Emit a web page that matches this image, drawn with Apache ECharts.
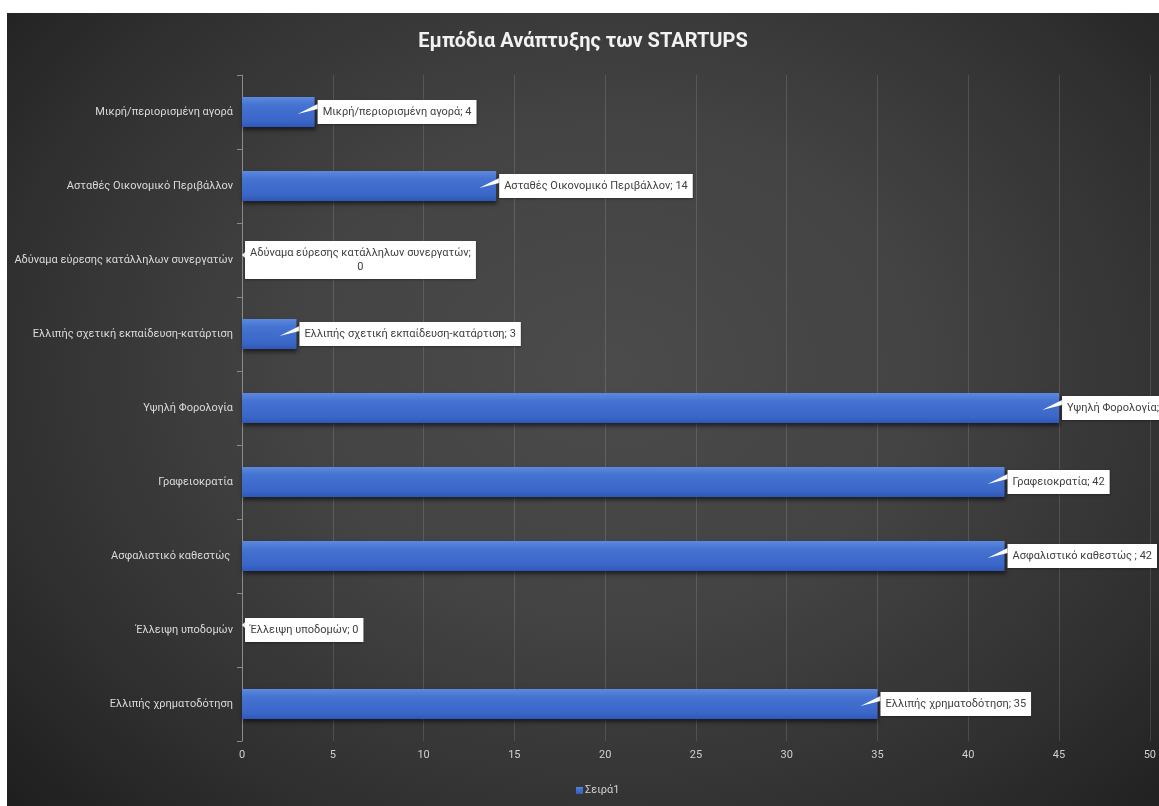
<!DOCTYPE html>
<html>
<head>
<meta charset="utf-8">
<script src="https://cdn.jsdelivr.net/npm/echarts@6/dist/echarts.min.js"></script>
<style>
  html, body { margin: 0; padding: 0; background: #ffffff; width: 1159px; height: 806px; overflow: hidden; }
  #chart {
    position: absolute; left: 7px; top: 13px; width: 1152px; height: 793px;
    background: radial-gradient(ellipse 70% 80% at 52% 45%, #4b4b4b 0%, #434343 40%, #303030 75%, #1f1f1f 100%);
  }
</style>
</head>
<body>
<div id="chart"></div>
<script>
// Obstacles to startup growth, listed bottom-to-top as on the axis
const categories = [
  'Ελλιπής χρηματοδότηση',
  'Έλλειψη υποδομών',
  'Ασφαλιστικό καθεστώς ',
  'Γραφειοκρατία',
  'Υψηλή Φορολογία',
  'Ελλιπής σχετική εκπαίδευση-κατάρτιση',
  'Αδύναμα εύρεσης κατάλληλων συνεργατών',
  'Ασταθές Οικονομικό Περιβάλλον',
  'Μικρή/περιορισμένη αγορά'
];
const values = [35, 0, 42, 42, 45, 3, 0, 14, 4];
const seriesName = 'Σειρά1';
const chartTitle = 'Εμπόδια Ανάπτυξης των STARTUPS';
const axisMin = 0;
const axisMax = 50;
const axisStep = 5;

const FONT = 'Roboto, "Noto Sans", sans-serif';
const LABEL_FONT = '11px ' + FONT;
const LABEL_MAX_W = 228;

// text measuring for the callout boxes
const measureCtx = document.createElement('canvas').getContext('2d');
measureCtx.font = LABEL_FONT;
function textW(t) { return measureCtx.measureText(t).width; }

function calloutLines(i) {
  const full = categories[i] + '; ' + values[i];
  if (textW(full) > LABEL_MAX_W) return [categories[i] + ';', String(values[i])];
  return [full];
}

const chart = echarts.init(document.getElementById('chart'), null, { renderer: 'canvas' });

const barGradient = new echarts.graphic.LinearGradient(0, 0, 0, 1, [
  { offset: 0, color: '#5c8ade' },
  { offset: 0.25, color: '#4674d2' },
  { offset: 0.8, color: '#3a66c8' },
  { offset: 1, color: '#2e58b8' }
]);

function renderCallout(params, api) {
  const i = params.dataIndex;
  const v = api.value(0);
  const end = api.coord([v, i]);
  const zero = api.coord([0, i]);
  const x0 = end[0], yc = end[1];
  const lines = calloutLines(i);
  const padX = 5, lineH = 14, padY = 5;
  const w = Math.max.apply(null, lines.map(textW)) + padX * 2;
  const h = lines.length * lineH + padY * 2;
  const boxX = x0 + 3;
  const barLen = x0 - zero[0];
  const wedge = barLen > 0
    ? [[x0 - Math.min(17, barLen), yc + 2], [boxX, yc - 8], [boxX, yc - 3]]
    : [[x0, yc - 5], [boxX, yc - 8], [boxX, yc - 2]];
  return {
    type: 'group',
    children: [
      { type: 'polygon', shape: { points: wedge }, style: { fill: '#ffffff' } },
      {
        type: 'rect',
        shape: { x: boxX, y: yc - h / 2, width: w, height: h },
        style: { fill: '#ffffff', shadowColor: 'rgba(0,0,0,0.35)', shadowBlur: 2, shadowOffsetY: 1 }
      },
      {
        type: 'text',
        style: {
          text: lines.join('\n'), x: boxX + w / 2, y: yc,
          align: 'center', verticalAlign: 'middle',
          fill: '#404040', font: LABEL_FONT, lineHeight: lineH
        }
      }
    ]
  };
}

chart.setOption({
  animation: false,
  title: {
    text: chartTitle,
    left: 'center',
    top: 14,
    textStyle: { color: '#f2f2f2', fontSize: 20, fontWeight: 'bold', fontFamily: FONT }
  },
  legend: {
    data: [seriesName],
    bottom: 5,
    left: 564,
    itemWidth: 7,
    itemHeight: 7,
    itemGap: 4,
    icon: 'rect',
    textStyle: { color: '#d0d0d0', fontSize: 11, fontFamily: FONT, padding: [0, 0, 0, -3] }
  },
  grid: { left: 235, right: 7, top: 62, bottom: 65, containLabel: false },
  xAxis: {
    type: 'value',
    min: axisMin,
    max: axisMax,
    interval: axisStep,
    axisLine: { show: false },
    axisTick: { show: false },
    axisLabel: { color: '#d0d0d0', fontSize: 11, fontFamily: FONT, margin: 9 },
    splitLine: { show: true, lineStyle: { color: 'rgba(255,255,255,0.13)', width: 1 } }
  },
  yAxis: {
    type: 'category',
    data: categories,
    axisLine: { show: true, lineStyle: { color: '#8a8a8a', width: 1 } },
    axisTick: { show: true, length: 5, lineStyle: { color: '#8a8a8a' } },
    axisLabel: { color: '#dadada', fontSize: 11, fontFamily: FONT, margin: 9 },
    splitLine: { show: false }
  },
  series: [
    {
      name: seriesName,
      type: 'bar',
      data: values,
      barWidth: 30,
      itemStyle: {
        color: barGradient,
        shadowColor: 'rgba(0,0,0,0.55)',
        shadowBlur: 4,
        shadowOffsetX: 1,
        shadowOffsetY: 3
      },
      z: 2
    },
    {
      name: 'callouts',
      type: 'custom',
      data: values.map((v, i) => [v, i]),
      encode: { x: 0, y: 1 },
      renderItem: renderCallout,
      z: 5,
      silent: true
    }
  ]
});
</script>
</body>
</html>
